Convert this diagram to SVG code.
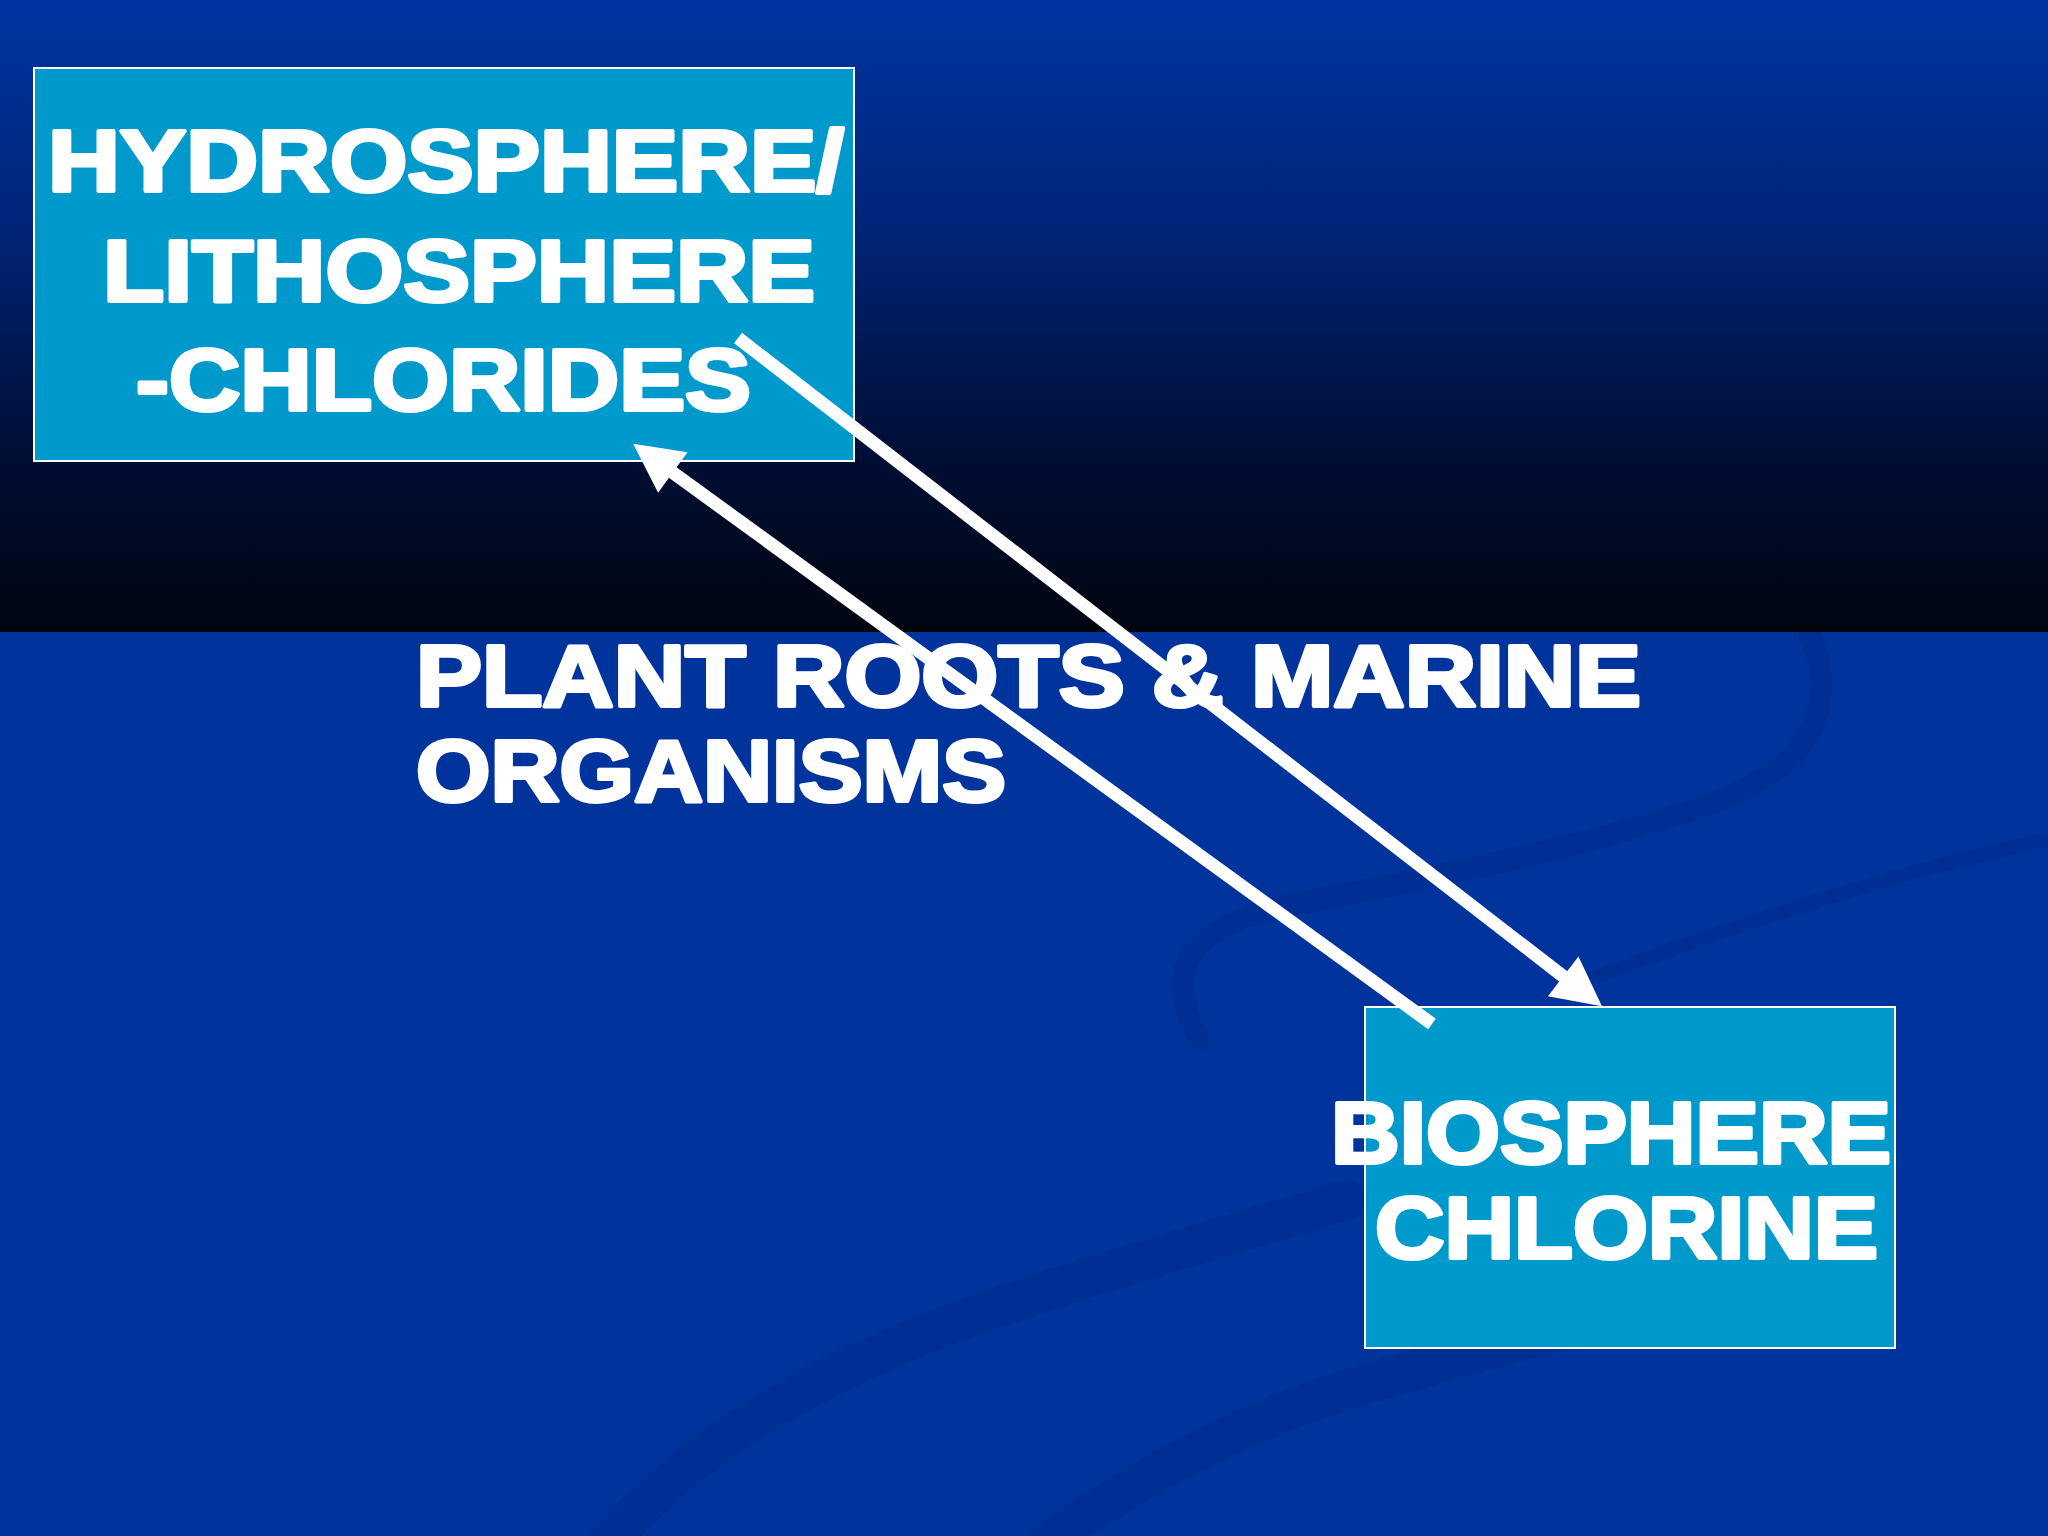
<svg xmlns="http://www.w3.org/2000/svg" width="2048" height="1536" viewBox="0 0 2048 1536">
  <defs>
    <linearGradient id="topGrad" x1="0" y1="0" x2="0" y2="1">
      <stop offset="0" stop-color="#0035a2"/>
      <stop offset="0.35" stop-color="#00257a"/>
      <stop offset="0.7" stop-color="#000f38"/>
      <stop offset="1" stop-color="#00050f"/>
    </linearGradient>
    <marker id="head" markerUnits="userSpaceOnUse" viewBox="0 -26 50 52" markerWidth="50" markerHeight="52" refX="1" refY="0" orient="auto" overflow="visible">
      <path d="M0,-25 L49,0 L0,25 Z" fill="#ffffff"/>
    </marker>
    <style>
      .box { fill: #0099cc; stroke: #ffffff; stroke-width: 2; }
      .lbl { font-family: "Liberation Sans", Arial, sans-serif; font-weight: bold; font-size: 87px; fill: #ffffff; stroke: #ffffff; stroke-width: 4; stroke-linejoin: round; }
      .conn { stroke: #ffffff; stroke-width: 13; fill: none; stroke-linecap: butt; }
      .swoosh { fill: none; stroke: #00226e; stroke-linecap: round; }
    </style>
  </defs>

  <!-- background -->
  <rect x="0" y="0" width="2048" height="1536" fill="#00339c"/>
  <g id="swooshes" opacity="0.18">
    <path class="swoosh" stroke-width="22" d="M1809,633 C1835,690 1825,760 1720,800 C1600,845 1420,880 1290,905 C1190,925 1160,970 1200,1040"/>
    <path class="swoosh" stroke-width="14" d="M2048,840 C1900,870 1720,930 1560,990"/>
    <path class="swoosh" stroke-width="40" d="M610,1540 C700,1440 820,1370 989,1310 C1120,1265 1250,1230 1346,1200"/>
    <path class="swoosh" stroke-width="40" d="M1050,1540 C1150,1470 1250,1420 1346,1390 C1450,1360 1550,1330 1620,1320"/>
  </g>
  <rect x="0" y="0" width="2048" height="632" fill="url(#topGrad)"/>

  <!-- nodes -->
  <g id="node-hydrosphere">
    <rect class="box" x="34" y="68" width="820" height="393"/>
    <text class="lbl" x="48" y="191" textLength="796" lengthAdjust="spacingAndGlyphs">HYDROSPHERE/</text>
    <text class="lbl" x="103" y="301" textLength="712" lengthAdjust="spacingAndGlyphs">LITHOSPHERE</text>
    <text class="lbl" x="136" y="410" textLength="615" lengthAdjust="spacingAndGlyphs">-CHLORIDES</text>
  </g>

  <g id="node-biosphere">
    <rect class="box" x="1365" y="1007" width="530" height="341"/>
    <text class="lbl" x="1331" y="1163" textLength="560" lengthAdjust="spacingAndGlyphs">BIOSPHERE</text>
    <text class="lbl" x="1375" y="1258" textLength="503" lengthAdjust="spacingAndGlyphs">CHLORINE</text>
  </g>

  <g id="label-plant-roots">
    <text class="lbl" x="416" y="706" textLength="1225" lengthAdjust="spacingAndGlyphs">PLANT ROOTS &amp; MARINE</text>
    <text class="lbl" x="416" y="801" textLength="590" lengthAdjust="spacingAndGlyphs">ORGANISMS</text>
  </g>

  <!-- connectors -->
  <g id="connectors">
    <line class="conn" x1="1432" y1="1024" x2="672" y2="472" marker-end="url(#head)"/>
    <line class="conn" x1="738" y1="338" x2="1564" y2="977" marker-end="url(#head)"/>
  </g>
</svg>
